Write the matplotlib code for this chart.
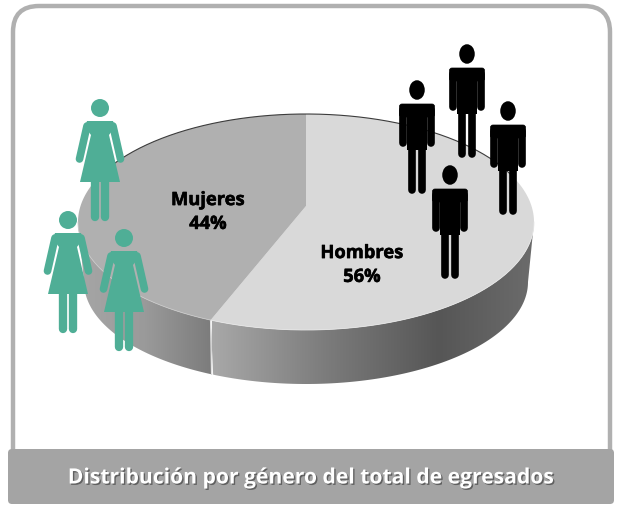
"""Distribucion por genero del total de egresados: 3D-look pie with pictograms."""
import numpy as np
import matplotlib
matplotlib.use("Agg")
import matplotlib.pyplot as plt
import matplotlib.patheffects as pe
from matplotlib.colors import LinearSegmentedColormap
from matplotlib.patches import Ellipse, FancyBboxPatch, Polygon, Rectangle

labels = ["Hombres", "Mujeres"]
values = [56, 44]
title = "Distribución por género del total de egresados"

FONT = "Open Sans"
GREEN = "#4fae96"
CX, CY, RX, RY = 306, 223, 228, 108      # top face
AX, AY = 306, 207                        # apex of the slices, off centre (perspective)
BY, BRX, BRY = 283, 222, 102             # lower rim
label_xy = [(362, 266), (208, 213)]
men_xy = [(467, 55), (417, 91), (508, 112), (450, 176)]
women_xy = [(100, 109), (68, 221), (124, 239)]

# where the slice border meets the rim
th = np.radians(360 * values[0] / sum(values))
dx, dy = np.sin(th) * RX, -np.cos(th) * RY
a = (dx / RX) ** 2 + (dy / RY) ** 2
b = 2 * dy * (AY - CY) / RY ** 2
c = ((AY - CY) / RY) ** 2 - 1
t = (-b + np.sqrt(b ** 2 - 4 * a * c)) / (2 * a)
sx, sy = AX + t * dx, AY + t * dy
phi_s = np.degrees(np.arctan2((sx - CX) / RX, -(sy - CY) / RY)) % 360


def rim(p0, p1, cy=CY, rx=RX, ry=RY):
    p = np.radians(np.linspace(p0, p1, 200))
    return np.column_stack([CX + rx * np.sin(p), cy - ry * np.cos(p)])


def side(p0, p1):
    return np.vstack([rim(p0, p1), rim(p0, p1, BY, BRX, BRY)[::-1]])


fig = plt.figure(figsize=(6.17, 5.06), dpi=100)
ax = fig.add_axes([0, 0, 1, 1])

# frame and title band
ax.add_patch(FancyBboxPatch((13, 7), 597, 490, boxstyle="round,pad=0,rounding_size=26",
                            fc="white", ec="#b0b0b0", lw=3.2, zorder=1))
ax.add_patch(FancyBboxPatch((8, 450), 606, 55, boxstyle="round,pad=0,rounding_size=4",
                            fc="#a4a4a4", ec="none", zorder=2))
ax.text(311.5, 479, title, color="white", fontsize=15.2, fontweight="bold", family=FONT,
        ha="center", va="center", zorder=3,
        path_effects=[pe.withSimplePatchShadow(offset=(1, -1), shadow_rgbFace="#444444", alpha=0.7)])

# side of the pie, gradient in x
left_cm = LinearSegmentedColormap.from_list("l", ["#a6a6a6", "#9a9a9a", "#7c7c7c"])
right_cm = LinearSegmentedColormap.from_list(
    "r", [(0, "#a8a8a8"), (0.35, "#7c7c7c"), (0.7, "#565656"), (1, "#6c6c6c")])
grad = np.linspace(0, 1, 256)[None, :]
for cm, ext, poly in [(right_cm, (212, 536, 390, 220), side(90, phi_s)),
                      (left_cm, (78, 212, 390, 220), side(phi_s, 270))]:
    im = ax.imshow(grad, cmap=cm, extent=ext, aspect="auto", zorder=3)
    patch = Polygon(poly, transform=ax.transData, fc="none", ec="none")
    ax.add_patch(patch)
    im.set_clip_path(patch)
ax.plot([sx, sx + 1], [sy, 375], color="#e2e2e2", lw=1, zorder=4)

# top face
ax.add_patch(Polygon(np.vstack([[AX, AY], rim(0, phi_s)]), fc="#d9d9d9", ec="none", zorder=5))
ax.add_patch(Polygon(np.vstack([[AX, AY], rim(phi_s, 360)]), fc="#b0b0b0", ec="none", zorder=5))
ax.plot(*rim(300, 360 + 65).T, color="#3c3c3c", lw=0.8, zorder=6)
ax.plot(*rim(90, phi_s).T, color="#e6e6e6", lw=0.6, zorder=6)
ax.plot(*rim(phi_s, 270).T, color="#c8c8c8", lw=0.6, zorder=6)

for name, v, (x, y) in zip(labels, values, label_xy):
    ax.text(x, y, f"{name}\n{v}%", color="black", fontsize=13.2, fontweight="bold", family=FONT,
            ha="center", va="center", linespacing=1.42, zorder=7,
            path_effects=[pe.withStroke(linewidth=0.4, foreground="black")])


def limb(x0, y0, x1, y1, color, lw=5.5):
    ax.plot([x0, x1], [y0, y1], color=color, lw=lw, solid_capstyle="round", zorder=8)


# pictograms
for x, y in men_xy:
    ax.add_patch(Ellipse((x, y), 15.5, 19.5, fc="black", ec="none", zorder=8))
    ax.add_patch(FancyBboxPatch((x - 17.5, y + 14), 35, 13, boxstyle="round,pad=0,rounding_size=2.5",
                                fc="black", ec="black", lw=0.5, zorder=8))
    ax.add_patch(Rectangle((x - 10, y + 20), 20, 40, fc="black", ec="none", zorder=8))
    for s in (-1, 1):
        limb(x + s * 14, y + 20, x + s * 14, y + 53, "black")
        limb(x + s * 4.6, y + 55, x + s * 4.6, y + 99.5, "black")

for x, y in women_xy:
    ax.add_patch(Ellipse((x, y), 18, 18, fc=GREEN, ec="none", zorder=8))
    ax.add_patch(Polygon([(x - 13, y + 13), (x + 13, y + 13), (x + 15, y + 19), (x + 9, y + 27),
                          (x + 20, y + 74), (x - 20, y + 74), (x - 9, y + 27), (x - 15, y + 19)],
                         fc=GREEN, ec="none", zorder=8))
    for s in (-1, 1):
        limb(x + s * 13, y + 18, x + s * 20.5, y + 51, GREEN)
        limb(x + s * 5, y + 70, x + s * 5, y + 109, GREEN, lw=6)

ax.set_xlim(0, 617)
ax.set_ylim(506, 0)
ax.axis("off")
fig.savefig("out.png", dpi=100)
